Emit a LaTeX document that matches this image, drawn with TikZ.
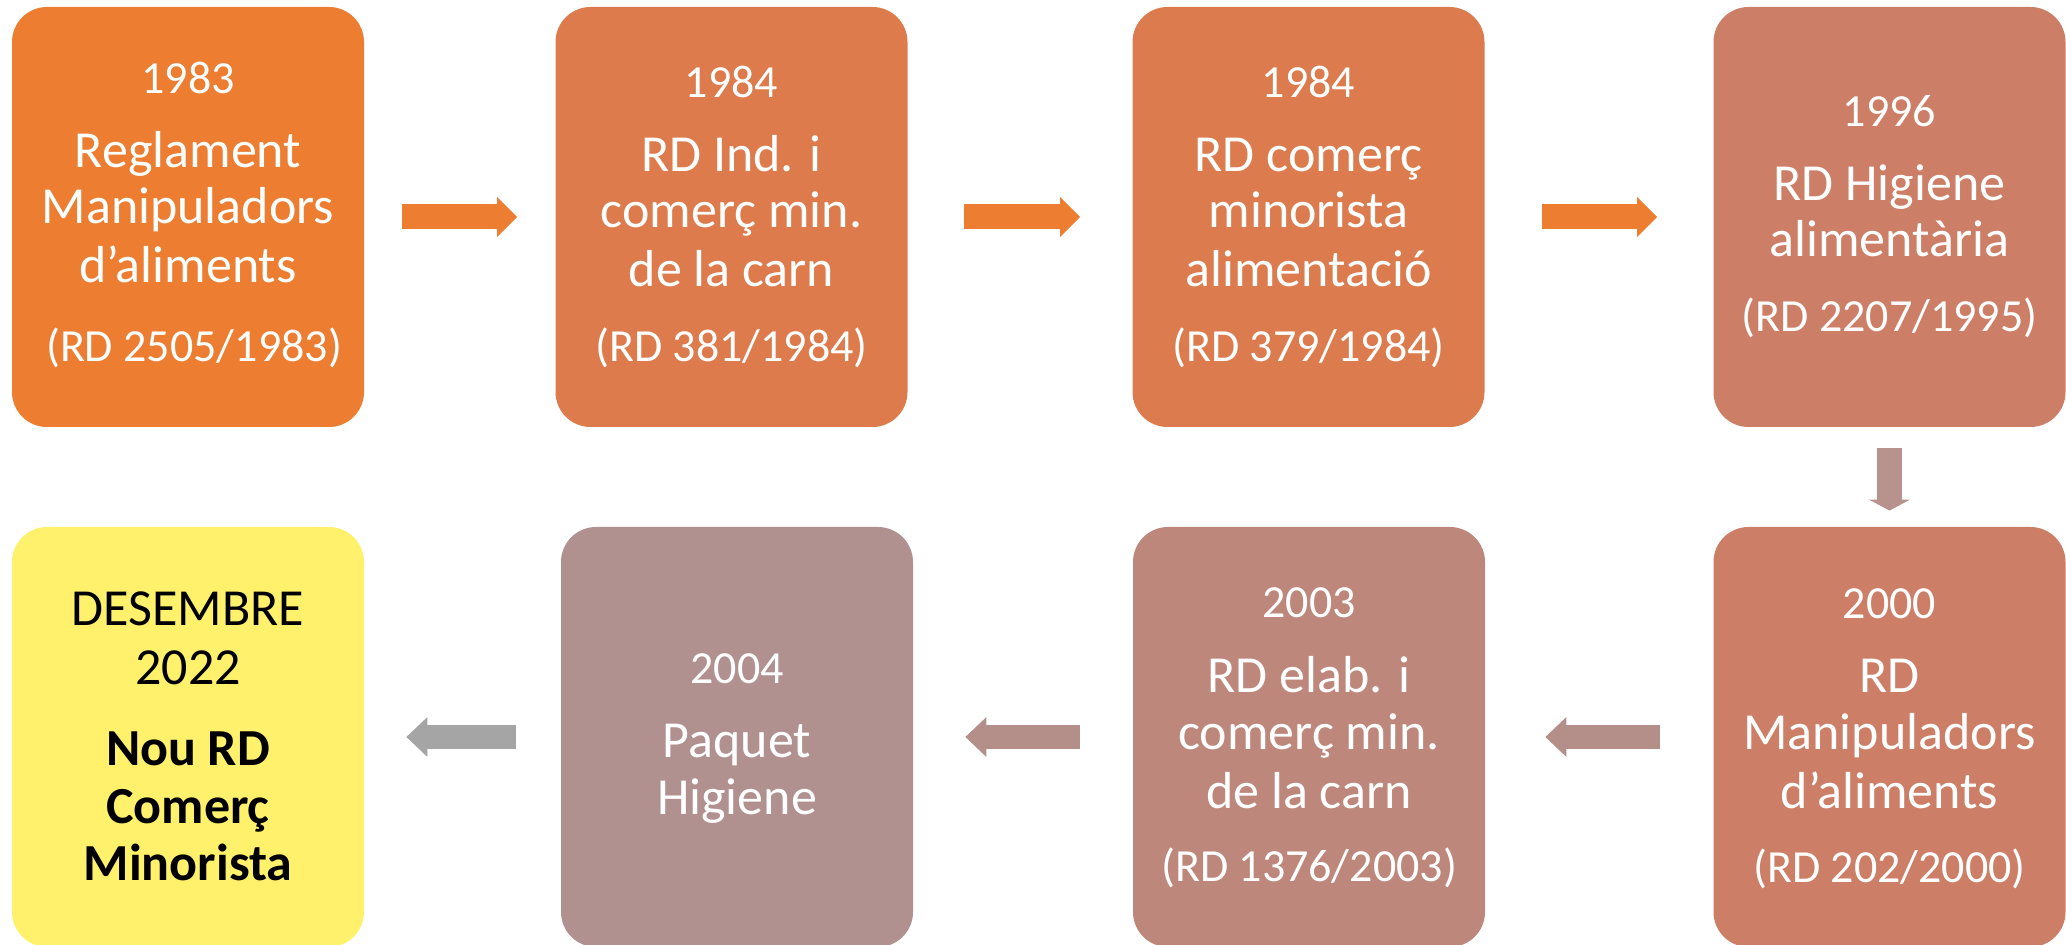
\documentclass[tikz,border=0pt]{standalone}
\usepackage{fontspec}
\setmainfont{Carlito}
\usetikzlibrary{arrows.meta}
\definecolor{c1}{HTML}{ED7D31}
\definecolor{c2}{HTML}{DD7B4C}
\definecolor{c3}{HTML}{DC7B4D}
\definecolor{c4}{HTML}{CD7E67}
\definecolor{c5}{HTML}{FFF16B}
\definecolor{c6}{HTML}{B0918F}
\definecolor{c7}{HTML}{BD877B}
\definecolor{c8}{HTML}{CC7E67}
\definecolor{aorange}{HTML}{ED7D31}
\definecolor{adown}{HTML}{B8928C}
\definecolor{apink}{HTML}{B48E88}
\definecolor{agray}{HTML}{A5A5A5}
\tikzset{
  box/.style={draw=none, rounded corners=17.5pt, minimum width=176pt, minimum height=210pt, inner sep=0pt},
  yr/.style={anchor=base, inner sep=0pt, text=white, font=\fontsize{23pt}{28pt}\selectfont},
  big/.style={anchor=base, inner sep=0pt, text=white, font=\fontsize{26pt}{30pt}\selectfont},
  bigk/.style={anchor=base, inner sep=0pt, text=black, font=\fontsize{26pt}{30pt}\selectfont},
  bigb/.style={anchor=base, inner sep=0pt, text=black, font=\fontsize{26pt}{30pt}\selectfont\bfseries},
  harrow/.style={line width=12.5pt, -{Triangle[length=10pt,width=20pt,line width=0pt]}},
  varrow/.style={line width=12.5pt, -{Triangle[length=5.5pt,width=20.5pt,line width=0pt]}},
  larrow/.style={line width=12pt, -{Triangle[length=10.5pt,width=20pt,line width=0pt]}}
}
\begin{document}
\begin{tikzpicture}[x=0.5pt,y=-0.5pt]
\useasboundingbox (0,0) rectangle (2066,945);
% top row boxes
\node[box, fill=c1] (b1) at (188,217) {};
\node[box, fill=c2] (b2) at (731.5,217) {};
\node[box, fill=c3] (b3) at (1308.5,217) {};
\node[box, fill=c4] (b4) at (1889.5,217) {};
% bottom row boxes
\node[box, fill=c5] (b5) at (188,737) {};
\node[box, fill=c6] (b6) at (737,737) {};
\node[box, fill=c7] (b7) at (1309,737) {};
\node[box, fill=c8] (b8) at (1889.5,737) {};
% texts box 1
\node[yr]  (t1a) at (188,94) {1983};
\node[big] (t1b) at (188,168) {Reglament};
\node[big] (t1c) at (188,224) {Manipuladors};
\node[big] (t1d) at (188,283) {d’aliments};
\node[yr]  (t1e) at (194,362) {(RD 2505/1983)};
% box 2
\node[yr]  (t2a) at (731.5,98) {1984};
\node[big] (t2b) at (731.5,172) {RD Ind. i};
\node[big] (t2c) at (731.5,228) {comerç min.};
\node[big] (t2d) at (731.5,287) {de la carn};
\node[yr]  (t2e) at (731.5,362) {(RD 381/1984)};
% box 3
\node[yr]  (t3a) at (1308.5,98) {1984};
\node[big] (t3b) at (1308.5,172) {RD comerç};
\node[big] (t3c) at (1308.5,228) {minorista};
\node[big] (t3d) at (1308.5,287) {alimentació};
\node[yr]  (t3e) at (1308.5,362) {(RD 379/1984)};
% box 4
\node[yr]  (t4a) at (1889.5,127) {1996};
\node[big] (t4b) at (1889.5,201) {RD Higiene};
\node[big] (t4c) at (1889.5,257) {alimentària};
\node[yr]  (t4d) at (1889.5,332) {(RD 2207/1995)};
% box 5 (yellow)
\node[bigk] (t5a) at (188,626) {DESEMBRE};
\node[bigk] (t5b) at (188,685) {2022};
\node[bigb] (t5c) at (188,765) {Nou RD};
\node[bigb] (t5d) at (188,823) {Comerç};
\node[bigb] (t5e) at (188,880) {Minorista};
% box 6
\node[yr]  (t6a) at (737,683) {2004};
\node[big] (t6b) at (737,757) {Paquet};
\node[big] (t6c) at (737,814) {Higiene};
% box 7
\node[yr]  (t7a) at (1309,618) {2003};
\node[big] (t7b) at (1309,693) {RD elab. i};
\node[big] (t7c) at (1309,749) {comerç min.};
\node[big] (t7d) at (1309,808) {de la carn};
\node[yr]  (t7e) at (1309,881) {(RD 1376/2003)};
% box 8
\node[yr]  (t8a) at (1889.5,619) {2000};
\node[big] (t8b) at (1889.5,693) {RD};
\node[big] (t8c) at (1889.5,749) {Manipuladors};
\node[big] (t8d) at (1889.5,808) {d’aliments};
\node[yr]  (t8e) at (1889.5,882) {(RD 202/2000)};
% arrows top
\draw[harrow, draw=aorange, fill=aorange, shorten <=19pt, shorten >=19pt] (b1.east) -- (b2.west);
\draw[harrow, draw=aorange, fill=aorange, shorten <=28pt, shorten >=26pt] (b2.east) -- (b3.west);
\draw[harrow, draw=aorange, fill=aorange, shorten <=28.5pt, shorten >=28pt] (b3.east) -- (b4.west);
% down arrow
\draw[varrow, draw=adown, fill=adown, shorten <=10.5pt, shorten >=8pt] (b4.south) -- (b8.north);
% arrows bottom
\draw[larrow, draw=apink, fill=apink, shorten <=26.5pt, shorten >=30pt] (b8.west) -- (b7.east);
\draw[larrow, draw=apink, fill=apink, shorten <=26.5pt, shorten >=26pt] (b7.west) -- (b6.east);
\draw[larrow, draw=agray, fill=agray, shorten <=22.5pt, shorten >=21pt] (b6.west) -- (b5.east);
\end{tikzpicture}
\end{document}
